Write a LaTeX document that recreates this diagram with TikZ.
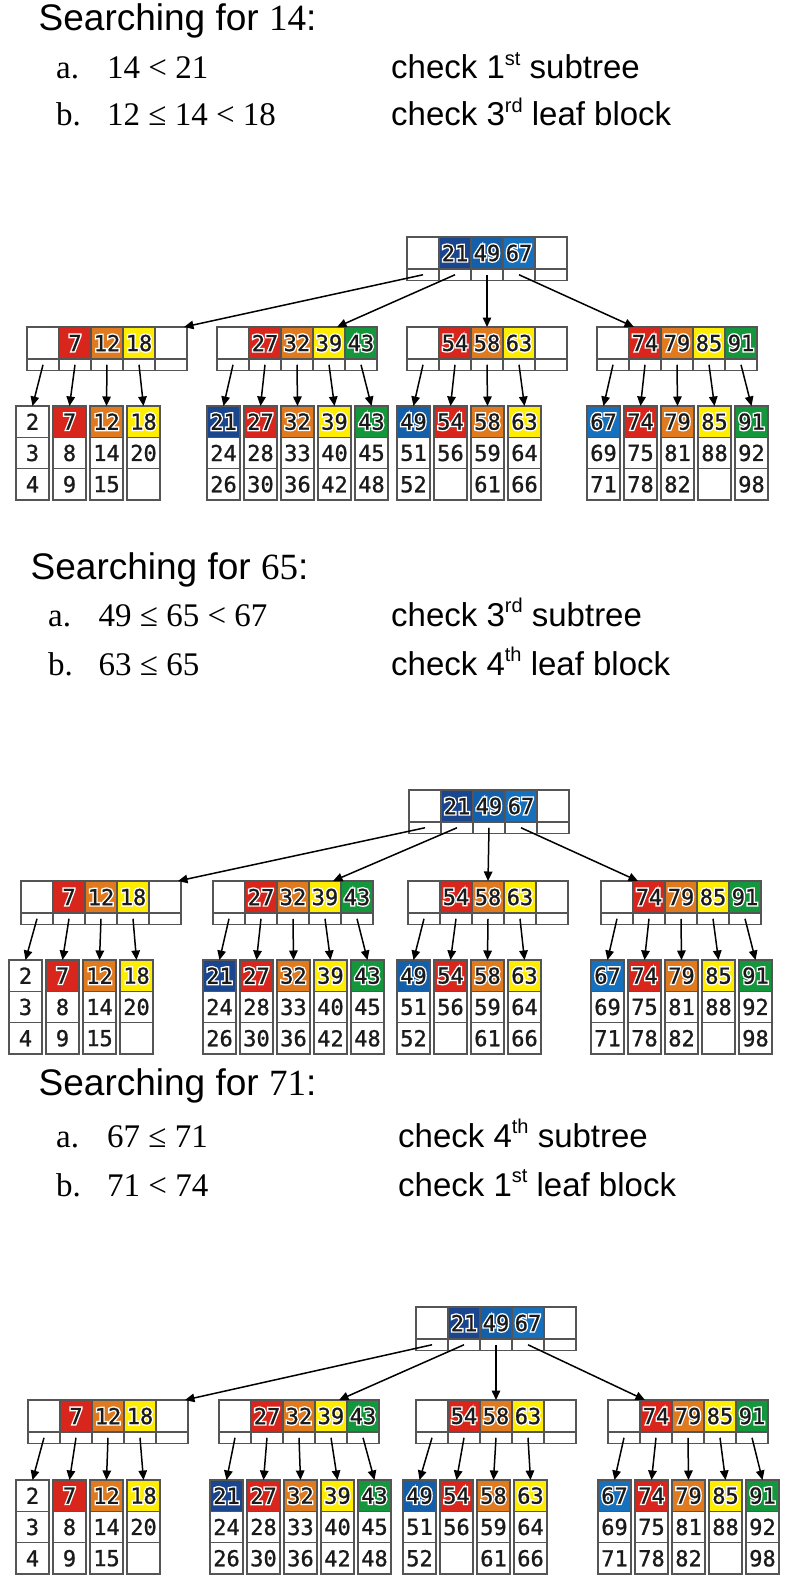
\documentclass[tikz,border=0pt]{standalone}
\usepackage{fontspec}
\setmainfont{Liberation Serif}
\newfontfamily\arialf{Liberation Sans}
\newfontfamily\timesf{Liberation Serif}
\newfontfamily\monof[FakeBold=1]{DejaVu Sans Mono}
\newfontfamily\monohalo[FakeBold=14]{DejaVu Sans Mono}
\usetikzlibrary{arrows.meta}
\definecolor{kred}{HTML}{D9261C}
\definecolor{korange}{HTML}{E07A1F}
\definecolor{kyellow}{HTML}{FFED00}
\definecolor{kgreen}{HTML}{14973C}
\definecolor{knavy}{HTML}{19468F}
\definecolor{kblue}{HTML}{145FA9}
\definecolor{klblue}{HTML}{1570BE}
\definecolor{bordergray}{HTML}{555555}
\definecolor{txtdark}{HTML}{1A1A1A}
\newcommand\halo[1]{\rlap{\monohalo\textcolor{white}{#1}}#1}
\newcommand\sups[1]{\raisebox{0.42em}{\fontsize{20}{20}\selectfont #1}}
\tikzset{
  cell/.style={draw=bordergray, line width=1.3pt, minimum width=32pt, minimum height=32pt,
    inner sep=0pt, outer sep=0pt, anchor=north west, text=txtdark,
    font=\monof\fontsize{22}{22}\selectfont},
  ptr/.style={cell, minimum height=11.5pt},
  leafcell/.style={cell, minimum width=33pt, minimum height=31.3pt},
  link/.style={-{Triangle[length=9.5pt,width=8.5pt]}, line width=1.5pt, black},
  txt/.style={anchor=base west, inner sep=0pt, font=\fontsize{33}{38}\selectfont, text=black},
  ttl/.style={txt, font=\fontsize{37}{42}\selectfont}
}
\newcommand\inode[4]{%
  \foreach [count=\i from 0] \kf/\kt in {#4} {
    \node[cell, fill=\kf] (#1-k\i) at ({#2+32*\i},{#3}) {\halo{\kt}};
    \node[ptr] (#1-p\i) at ({#2+32*\i},{#3+32}) {};
  }}
\newcommand\leafgroup[4]{%
  \foreach [count=\i from 0] \kf/\ka/\kb/\kc in {#4} {
    \node[leafcell, fill=\kf] (#1\i-a) at ({#2+37*\i},{#3}) {\halo{\ka}};
    \node[leafcell] (#1\i-b) at ({#2+37*\i},{#3+31.3}) {\kb};
    \node[leafcell] (#1\i-c) at ({#2+37*\i},{#3+62.6}) {\kc};
  }}
% offsets: \rdx \rdy root; \adx.. node x; \ndy node y; \ladx.. leaf x; \ldy leaf y
\newcommand\drawtree[1]{%
  \inode{#1R}{407+\rdx}{237+\rdy}{white/{},knavy/21,kblue/49,klblue/67,white/{}}
  \inode{#1A}{27+\adx}{327+\ndy}{white/{},kred/7,korange/12,kyellow/18,white/{}}
  \inode{#1B}{217+\bdx}{327+\ndy}{white/{},kred/27,korange/32,kyellow/39,kgreen/43}
  \inode{#1C}{407+\cdx}{327+\ndy}{white/{},kred/54,korange/58,kyellow/63,white/{}}
  \inode{#1D}{597+\ddx}{327+\ndy}{white/{},kred/74,korange/79,kyellow/85,kgreen/91}
  \leafgroup{#1LA}{16+\ladx}{406+\ldy}{white/2/3/4,kred/7/8/9,korange/12/14/15,kyellow/18/20/{}}
  \leafgroup{#1LB}{207+\lbdx}{406+\ldy}{knavy/21/24/26,kred/27/28/30,korange/32/33/36,kyellow/39/40/42,kgreen/43/45/48}
  \leafgroup{#1LC}{397+\lcdx}{406+\ldy}{kblue/49/51/52,kred/54/56/{},korange/58/59/61,kyellow/63/64/66}
  \leafgroup{#1LD}{587+\lddx}{406+\ldy}{klblue/67/69/71,kred/74/75/78,korange/79/81/82,kyellow/85/88/{},kgreen/91/92/98}
  \draw[link] (#1R-p0.center) -- ([xshift=-3pt]#1A-k4.north east);
  \draw[link] (#1R-p1.center) -- ([xshift=8pt]#1B-k3.north);
  \draw[link] (#1R-p2.center) -- (#1C-k2.north);
  \draw[link] (#1R-p3.center) -- ([xshift=5pt]#1D-k1.north west);
  \foreach \i in {0,...,3} {\draw[link] (#1A-p\i.center) -- (#1LA\i-a.north);}
  \foreach \i in {0,...,4} {\draw[link] (#1B-p\i.center) -- (#1LB\i-a.north);}
  \foreach \i in {0,...,3} {\draw[link] (#1C-p\i.center) -- (#1LC\i-a.north);}
  \foreach \i in {0,...,4} {\draw[link] (#1D-p\i.center) -- (#1LD\i-a.north);}
}
\newcommand\setoffs[8]{\def\rdx{#1}\def\rdy{#2}\def\adx{#3}\def\bdx{#4}\def\cdx{#5}\def\ddx{#6}\def\ndy{#7}\def\ldy{#8}}
\newcommand\setleafoffs[4]{\def\ladx{#1}\def\lbdx{#2}\def\lcdx{#3}\def\lddx{#4}}
\begin{document}
\begin{tikzpicture}[x=1pt,y=-1pt]
\useasboundingbox[fill=white] (0,0) rectangle (800,1589);
% panel 1
\node[ttl] (h1) at (38.5,31) {\arialf Searching for \timesf 14\arialf :};
\node[txt] (h1a) at (56,79) {\timesf a.};
\node[txt] (h1ae) at (107,79) {\timesf 14 < 21};
\node[txt] (h1ac) at (391,79) {\arialf check 1\sups{st} subtree};
\node[txt] (h1b) at (56,126) {\timesf b.};
\node[txt] (h1be) at (107,126) {\timesf 12 ≤ 14 < 18};
\node[txt] (h1bc) at (391,126) {\arialf check 3\sups{rd} leaf block};
\begin{scope}
\setoffs{0}{0}{0}{0}{0}{0}{0}{0}
\setleafoffs{0}{0}{0}{0}
\drawtree{P}
\end{scope}
% panel 2
\node[ttl] (h2) at (30.5,579) {\arialf Searching for \timesf 65\arialf :};
\node[txt] (h2a) at (48,626) {\timesf a.};
\node[txt] (h2ae) at (98.5,626) {\timesf 49 ≤ 65 < 67};
\node[txt] (h2ac) at (391,626) {\arialf check 3\sups{rd} subtree};
\node[txt] (h2b) at (48,675) {\timesf b.};
\node[txt] (h2be) at (98.5,675) {\timesf 63 ≤ 65};
\node[txt] (h2bc) at (391,675) {\arialf check 4\sups{th} leaf block};
\begin{scope}[shift={(-4,556)}]
\setoffs{6}{-3}{-2}{0}{5}{8}{-2}{-2}
\setleafoffs{-3}{0}{4}{8}
\drawtree{Q}
\end{scope}
% panel 3
\node[ttl] (h3) at (38.5,1095) {\arialf Searching for \timesf 71\arialf :};
\node[txt] (h3a) at (56,1147) {\timesf a.};
\node[txt] (h3ae) at (107,1147) {\timesf 67 ≤ 71};
\node[txt] (h3ac) at (398,1147) {\arialf check 4\sups{th} subtree};
\node[txt] (h3b) at (56,1196) {\timesf b.};
\node[txt] (h3be) at (107,1196) {\timesf 71 < 74};
\node[txt] (h3bc) at (398,1196) {\arialf check 1\sups{st} leaf block};
\begin{scope}[shift={(3,1075)}]
\setoffs{6}{-5}{-2}{-1}{6}{8}{-2}{-1}
\setleafoffs{-3}{0}{3}{8}
\drawtree{S}
\end{scope}
\end{tikzpicture}
\end{document}
